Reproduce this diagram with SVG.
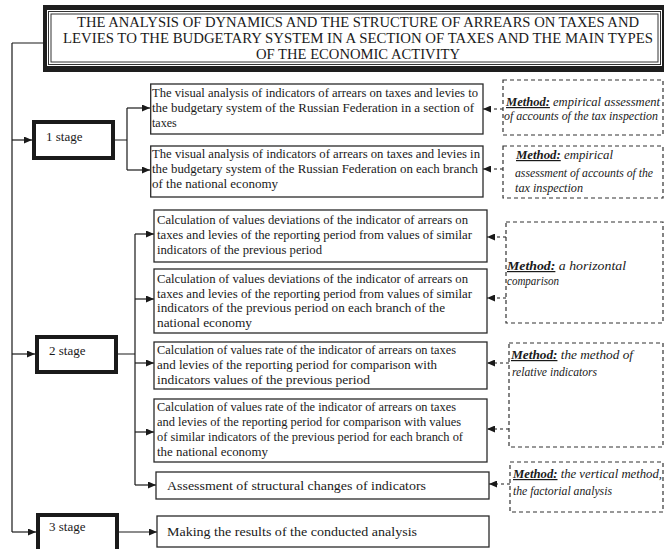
<svg xmlns="http://www.w3.org/2000/svg" width="664" height="549" viewBox="0 0 664 549">
<defs>
<marker id="ah" viewBox="0 0 8 7" refX="8" refY="3.5" markerWidth="8" markerHeight="7" markerUnits="userSpaceOnUse" orient="auto">
<path d="M0,0 L8,3.5 L0,7 z" fill="#1a1a1a"/>
</marker>
</defs>
<style>
.t{font-family:"Liberation Serif","Times New Roman",serif;font-size:12px;fill:#1a1a1a}
.ti{font-family:"Liberation Serif","Times New Roman",serif;font-size:14px;fill:#1a1a1a}
.st{font-family:"Liberation Serif","Times New Roman",serif;font-size:13px;fill:#1a1a1a}
.m{font-family:"Liberation Serif","Times New Roman",serif;font-size:12px;font-style:italic;fill:#1a1a1a}
.mb{font-weight:bold;text-decoration:underline}
.box{fill:#fff;stroke:#2a2a2a;stroke-width:1.3}
.sbox{fill:#fff;stroke:#1a1a1a;stroke-width:4}
.dbox{fill:#fff;stroke:#333;stroke-width:1.2;stroke-dasharray:4 3}
.c{fill:none;stroke:#1a1a1a;stroke-width:1.2}
.cd{fill:none;stroke:#1a1a1a;stroke-width:1.2;stroke-dasharray:3 3}
</style>
<rect width="664" height="549" fill="#fff"/>

<g id="title">
<rect x="43" y="5" width="623" height="67" fill="#1e1e1e"/>
<rect x="47" y="10" width="615" height="56" fill="#fff"/>
<rect x="48.5" y="11.5" width="612" height="53" fill="none" stroke="#333" stroke-width="1"/>
<rect x="51" y="14" width="607" height="48" fill="none" stroke="#333" stroke-width="1"/>
<text class="ti" x="77" y="27" textLength="562" lengthAdjust="spacingAndGlyphs">THE ANALYSIS OF DYNAMICS AND THE STRUCTURE OF ARREARS ON TAXES AND</text>
<text class="ti" x="63" y="43" textLength="590" lengthAdjust="spacingAndGlyphs">LEVIES TO THE BUDGETARY SYSTEM IN A SECTION OF TAXES AND THE MAIN TYPES</text>
<text class="ti" x="256" y="59" textLength="204" lengthAdjust="spacingAndGlyphs">OF THE ECONOMIC ACTIVITY</text>
</g>

<g id="connectors">
<path class="c" d="M12,43 H43 M12,43 V532"/>
<path class="c" d="M12,140 H32" marker-end="url(#ah)"/>
<path class="c" d="M12,354 H35" marker-end="url(#ah)"/>
<path class="c" d="M12,532 H36" marker-end="url(#ah)"/>
<path class="c" d="M115,140 H127 M127,108 V170"/>
<path class="c" d="M127,108 H150" marker-end="url(#ah)"/>
<path class="c" d="M127,170 H150" marker-end="url(#ah)"/>
<path class="c" d="M118,354 H135 M135,234 V485"/>
<path class="c" d="M135,234 H154" marker-end="url(#ah)"/>
<path class="c" d="M135,299 H154" marker-end="url(#ah)"/>
<path class="c" d="M135,363 H154" marker-end="url(#ah)"/>
<path class="c" d="M135,432 H154" marker-end="url(#ah)"/>
<path class="c" d="M135,485 H156" marker-end="url(#ah)"/>
<path class="c" d="M119,532 H157" marker-end="url(#ah)"/>
<path class="cd" d="M503,109 H483" marker-end="url(#ah)"/>
<path class="cd" d="M503,169 H483" marker-end="url(#ah)"/>
<path class="cd" d="M506,237 H487" marker-end="url(#ah)"/>
<path class="cd" d="M506,298 H487" marker-end="url(#ah)"/>
<path class="cd" d="M509,363 H487" marker-end="url(#ah)"/>
<path class="cd" d="M509,429 H487" marker-end="url(#ah)"/>
<path class="cd" d="M510,484 H489" marker-end="url(#ah)"/>
</g>

<g id="stage1">
<rect class="sbox" x="34" y="122" width="79" height="36"/>
<text class="st" x="46" y="141">1 stage</text>
</g>
<g id="stage2">
<rect class="sbox" x="37" y="337" width="79" height="35"/>
<text class="st" x="49" y="355">2 stage</text>
</g>
<g id="stage3">
<rect class="sbox" x="38" y="515" width="79" height="38"/>
<text class="st" x="49" y="531">3 stage</text>
</g>

<g id="task1">
<rect class="box" x="150.7" y="84" width="332.3" height="50"/>
<text class="t" x="152" y="97" textLength="326" lengthAdjust="spacingAndGlyphs">The visual analysis of indicators of arrears on taxes and levies to</text>
<text class="t" x="152" y="112" textLength="322" lengthAdjust="spacingAndGlyphs">the budgetary system of the Russian Federation in a section of</text>
<text class="t" x="152" y="127">taxes</text>
</g>
<g id="task2">
<rect class="box" x="150.7" y="146" width="332.3" height="51"/>
<text class="t" x="152" y="158" textLength="328" lengthAdjust="spacingAndGlyphs">The visual analysis of indicators of arrears on taxes and levies in</text>
<text class="t" x="152" y="173" textLength="326" lengthAdjust="spacingAndGlyphs">the budgetary system of the Russian Federation on each branch</text>
<text class="t" x="152" y="188" textLength="126" lengthAdjust="spacingAndGlyphs">of the national economy</text>
</g>
<g id="task3">
<rect class="box" x="154" y="210" width="333" height="52"/>
<text class="t" x="157" y="224" textLength="311" lengthAdjust="spacingAndGlyphs">Calculation of values deviations of the indicator of arrears on</text>
<text class="t" x="157" y="239" textLength="315" lengthAdjust="spacingAndGlyphs">taxes and levies of the reporting period from values of similar</text>
<text class="t" x="157" y="254" textLength="165" lengthAdjust="spacingAndGlyphs">indicators of the previous period</text>
</g>
<g id="task4">
<rect class="box" x="154" y="269" width="333" height="64"/>
<text class="t" x="157" y="283" textLength="311" lengthAdjust="spacingAndGlyphs">Calculation of values deviations of the indicator of arrears on</text>
<text class="t" x="157" y="298" textLength="315" lengthAdjust="spacingAndGlyphs">taxes and levies of the reporting period from values of similar</text>
<text class="t" x="157" y="312" textLength="288" lengthAdjust="spacingAndGlyphs">indicators  of the previous period on each branch of the</text>
<text class="t" x="157" y="327" textLength="95" lengthAdjust="spacingAndGlyphs">national  economy</text>
</g>
<g id="task5">
<rect class="box" x="154" y="342" width="333" height="47"/>
<text class="t" x="157" y="354" textLength="299" lengthAdjust="spacingAndGlyphs">Calculation of values rate of the indicator of arrears on taxes</text>
<text class="t" x="157" y="369" textLength="280" lengthAdjust="spacingAndGlyphs">and levies of the reporting period for comparison with</text>
<text class="t" x="157" y="384" textLength="213" lengthAdjust="spacingAndGlyphs">indicators values of the previous period</text>
</g>
<g id="task6">
<rect class="box" x="154" y="399" width="333" height="63"/>
<text class="t" x="157" y="411" textLength="299" lengthAdjust="spacingAndGlyphs">Calculation of values rate of the indicator of arrears on taxes</text>
<text class="t" x="157" y="426" textLength="304" lengthAdjust="spacingAndGlyphs">and levies of the reporting period for comparison with values</text>
<text class="t" x="157" y="441" textLength="306" lengthAdjust="spacingAndGlyphs">of similar  indicators of the previous period for each branch of</text>
<text class="t" x="157" y="456" textLength="111" lengthAdjust="spacingAndGlyphs">the national economy</text>
</g>
<g id="task7">
<rect class="box" x="156" y="472" width="333" height="27"/>
<text class="t" x="167" y="490" textLength="259" lengthAdjust="spacingAndGlyphs">Assessment of structural changes  of indicators</text>
</g>
<g id="task8">
<rect class="box" x="157" y="516" width="332" height="31"/>
<text class="t" x="167" y="536" textLength="250" lengthAdjust="spacingAndGlyphs">Making the results of the conducted  analysis</text>
</g>

<g id="method1">
<rect class="dbox" x="503" y="80" width="160" height="55"/>
<text class="m" x="506" y="106" textLength="154" lengthAdjust="spacingAndGlyphs"><tspan class="mb">Method:</tspan> empirical assessment</text>
<text class="m" x="504" y="120" textLength="154" lengthAdjust="spacingAndGlyphs">of accounts of the tax inspection</text>
</g>
<g id="method2">
<rect class="dbox" x="503" y="146" width="160" height="52"/>
<text class="m" x="516" y="159" textLength="97" lengthAdjust="spacingAndGlyphs"><tspan class="mb">Method:</tspan> empirical</text>
<text class="m" x="515" y="177" textLength="138" lengthAdjust="spacingAndGlyphs">assessment of accounts of the</text>
<text class="m" x="515" y="192" textLength="68" lengthAdjust="spacingAndGlyphs">tax inspection</text>
</g>
<g id="method3">
<rect class="dbox" x="506" y="222" width="157" height="101"/>
<text class="m" x="507" y="270" textLength="119" lengthAdjust="spacingAndGlyphs"><tspan class="mb">Method:</tspan> a horizontal</text>
<text class="m" x="507" y="285" textLength="52" lengthAdjust="spacingAndGlyphs">comparison</text>
</g>
<g id="method4">
<rect class="dbox" x="509" y="343" width="154" height="104"/>
<text class="m" x="511" y="359" textLength="122" lengthAdjust="spacingAndGlyphs"><tspan class="mb">Method:</tspan> the method of</text>
<text class="m" x="512" y="376" textLength="85" lengthAdjust="spacingAndGlyphs">relative indicators</text>
</g>
<g id="method5">
<rect class="dbox" x="510" y="462" width="153" height="50"/>
<text class="m" x="513" y="478" textLength="149" lengthAdjust="spacingAndGlyphs"><tspan class="mb">Method:</tspan> the vertical method,</text>
<text class="m" x="513" y="495" textLength="99" lengthAdjust="spacingAndGlyphs">the factorial analysis</text>
</g>
</svg>
